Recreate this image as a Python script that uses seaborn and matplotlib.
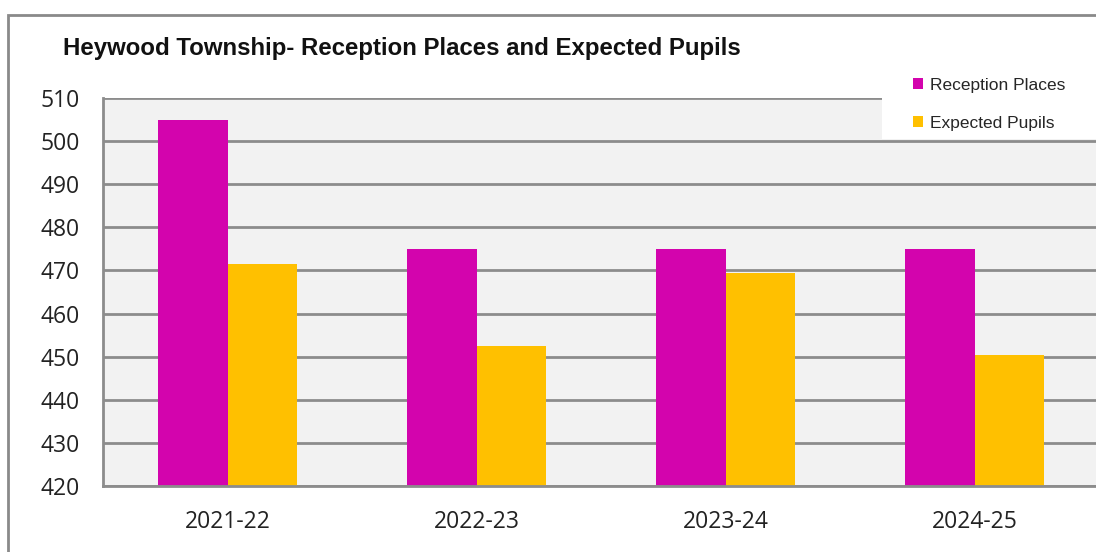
import matplotlib
matplotlib.use("Agg")
import matplotlib.pyplot as plt
from matplotlib.patches import Rectangle
import pandas as pd
import seaborn as sns

# chart values
years = ["2021-22", "2022-23", "2023-24", "2024-25"]
reception_places = [505, 475, 475, 475]
expected_pupils = [471.4, 452.4, 469.4, 450.3]
series_names = ["Reception Places", "Expected Pupils"]
series_colors = ["#D304AD", "#FFC000"]
y_ticks = [420, 430, 440, 450, 460, 470, 480, 490, 500, 510]

W, H = 1096, 552

df = pd.DataFrame({
    "year": years * 2,
    "series": [series_names[0]] * len(years) + [series_names[1]] * len(years),
    "value": reception_places + expected_pupils,
})

sns.set_theme(style="white")
plt.rcParams["font.family"] = ["Open Sans", "DejaVu Sans"]

fig = plt.figure(figsize=(W / 100, H / 100), dpi=100)
ax = fig.add_axes([103 / W, 1 - 486 / H, (1099 - 103) / W, (486 - 98) / H])
ax.set_facecolor("#F2F2F2")

sns.barplot(data=df, x="year", y="value", hue="series", hue_order=series_names,
            palette=series_colors, width=0.56, gap=0, saturation=1,
            linewidth=0, ax=ax)

handles, labels = ax.get_legend_handles_labels()
if ax.get_legend() is not None:
    ax.get_legend().remove()

ax.set_ylim(y_ticks[0], y_ticks[-1])
ax.set_yticks(y_ticks)
ax.set_xlim(-0.5, len(years) - 0.5)
ax.set_xlabel("")
ax.set_ylabel("")
ax.grid(axis="y", color="#8C8C8C", linewidth=2)
ax.set_axisbelow(True)
ax.tick_params(axis="y", length=0, pad=17, labelsize=16.5, colors="#222222")
ax.tick_params(axis="x", length=0, pad=17, labelsize=16.5, colors="#222222")
for side in ["top", "right"]:
    ax.spines[side].set_visible(False)
for side in ["left", "bottom"]:
    ax.spines[side].set_color("#8C8C8C")
    ax.spines[side].set_linewidth(2)

# outer chart border
fig.patches.append(Rectangle((8 / W, -0.1), 1.2, 1 - 15 / H + 0.1,
                             transform=fig.transFigure, fill=False,
                             edgecolor="#8A8A8A", linewidth=2, zorder=0))

# white legend box covering the plot corner
fig.patches.append(Rectangle((882 / W, 1 - 139 / H), 0.3, 80 / H,
                             transform=fig.transFigure, facecolor="white",
                             edgecolor="none", zorder=3))
leg = fig.legend(handles, labels, loc="upper left",
                 bbox_to_anchor=(913 / W, 1 - 78 / H), frameon=False,
                 handlelength=0.6, handleheight=0.6, handletextpad=0.4,
                 labelspacing=1.3, borderaxespad=0, borderpad=0,
                 prop={"family": ["Liberation Sans", "DejaVu Sans"], "size": 12.5})
leg.set_zorder(4)

fig.text(63 / W, 1 - 55 / H, "Heywood Township- Reception Places and Expected Pupils",
         fontsize=17.3, fontweight="bold", va="baseline", ha="left",
         family=["Liberation Sans", "DejaVu Sans"], color="#111111")

fig.savefig("out.png", dpi=100)
